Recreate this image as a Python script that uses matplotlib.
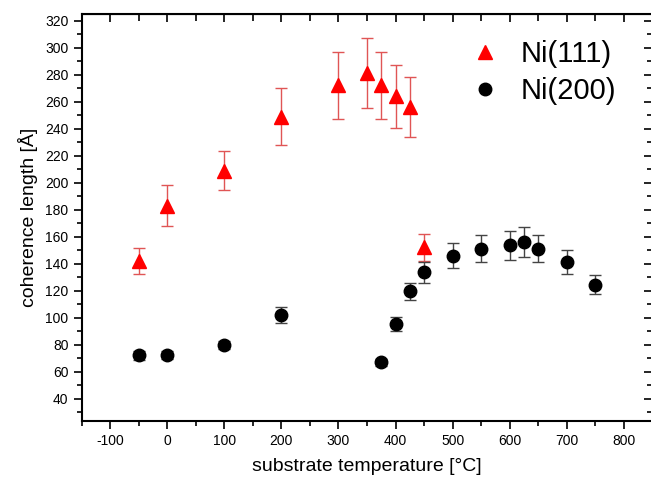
import matplotlib
matplotlib.use("Agg")
import matplotlib.pyplot as plt
from matplotlib.ticker import MultipleLocator
from matplotlib.lines import Line2D

plt.rcParams['font.family'] = ['Liberation Sans', 'DejaVu Sans']
plt.rcParams['axes.unicode_minus'] = False

t111 = [-50, 0, 100, 200, 300, 350, 375, 400, 425, 450]
L111 = [142, 183, 209, 249, 272, 281, 272, 264, 256, 152]
e111 = [9.5, 15, 14.5, 21, 25, 26, 25, 23.5, 22, 10]

t200 = [-50, 0, 100, 200, 375, 400, 425, 450, 500, 550, 600, 625, 650, 700, 750]
L200 = [72, 72.5, 79.5, 102, 67, 95.5, 119.5, 133.5, 146, 151, 153.5, 156, 151, 141.5, 124.5]
e200 = [3, 3, 3, 5.8, 2.5, 5, 6.3, 7.7, 9.5, 10, 10.5, 11, 10, 9, 6.8]

fig = plt.figure(figsize=(6.51, 4.80), dpi=100)
ax = fig.add_axes([0.1255, 0.123, 0.8765, 0.848])

ax.errorbar(t111, L111, yerr=e111, fmt='^', color='red', ms=10,
            ecolor='#e05555', elinewidth=1, capsize=4, capthick=1, zorder=3)
ax.errorbar(t200, L200, yerr=e200, fmt='o', color='black', ms=9,
            ecolor='#444444', elinewidth=1, capsize=4, capthick=1, zorder=3)

ax.set_xlim(-150, 850)
ax.set_ylim(23.5, 325)
ax.xaxis.set_major_locator(MultipleLocator(100))
ax.xaxis.set_minor_locator(MultipleLocator(50))
ax.yaxis.set_minor_locator(MultipleLocator(10))
ax.set_yticks(range(40, 321, 20))

ax.tick_params(which='both', direction='out', bottom=True, left=True,
               top=False, right=False, labelsize=10, width=1.2)
ax.tick_params(which='major', length=6)
ax.tick_params(which='minor', length=3.5)
for s in ax.spines.values():
    s.set_linewidth(1.5)

axt = ax.secondary_xaxis('top')
axt.xaxis.set_major_locator(MultipleLocator(100))
axt.xaxis.set_minor_locator(MultipleLocator(50))
axt.tick_params(which='both', direction='in', labeltop=False, width=1.2)
axt.tick_params(which='major', length=6)
axt.tick_params(which='minor', length=5)
axr = ax.secondary_yaxis('right')
axr.yaxis.set_major_locator(MultipleLocator(20))
axr.yaxis.set_minor_locator(MultipleLocator(10))
axr.tick_params(which='both', direction='in', labelright=False, width=1.2)
axr.tick_params(which='major', length=6)
axr.tick_params(which='minor', length=3.5)

ax.set_xlabel('substrate temperature [°C]', fontsize=14, labelpad=7)
ax.set_ylabel('coherence length [Å]', fontsize=14, labelpad=5)

handles = [Line2D([], [], ls='none', marker='^', color='red', ms=10),
           Line2D([], [], ls='none', marker='o', color='black', ms=9)]
ax.legend(handles, ['Ni(111)', 'Ni(200)'], loc='upper left',
          bbox_to_anchor=(0.623, 1.0), frameon=False,
          fontsize=21, handletextpad=0.45, labelspacing=0.3,
          handlelength=1.5)

fig.savefig('out.png', dpi=100)
